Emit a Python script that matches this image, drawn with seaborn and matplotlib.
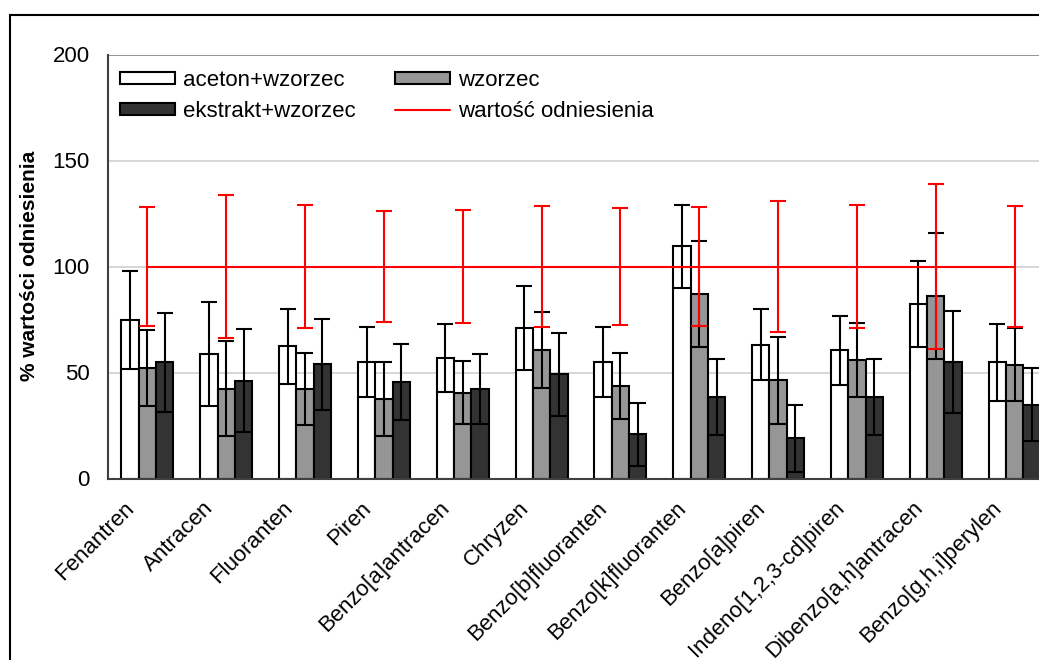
import matplotlib
matplotlib.use('Agg')
import matplotlib.pyplot as plt
import matplotlib.transforms as mtransforms
from matplotlib.patches import Rectangle, Patch
from matplotlib.lines import Line2D
import seaborn as sns
import pandas as pd
import numpy as np

# Data
compounds = ['Fenantren', 'Antracen', 'Fluoranten', 'Piren', 'Benzo[a]antracen',
             'Chryzen', 'Benzo[b]fluoranten', 'Benzo[k]fluoranten', 'Benzo[a]piren',
             'Indeno[1,2,3-cd]piren', 'Dibenzo[a,h]antracen', 'Benzo[g,h,i]perylen']
series = ['aceton+wzorzec', 'wzorzec', 'ekstrakt+wzorzec']

aceton_vals = [74.8, 58.6, 62.4, 54.8, 56.9, 70.9, 54.8, 109.5, 63.2, 60.5, 82.3, 54.8]
aceton_err = [23.0, 24.5, 17.7, 16.5, 16.0, 19.8, 16.5, 19.5, 16.7, 16.2, 20.3, 18.2]
wzorzec_vals = [52.1, 42.4, 42.4, 37.6, 40.5, 60.5, 43.7, 87.1, 46.4, 55.8, 86.2, 53.7]
wzorzec_err = [18.0, 22.5, 17.0, 17.5, 14.8, 18.0, 15.5, 25.0, 20.5, 17.5, 29.7, 17.2]
ekstrakt_vals = [54.8, 46.2, 53.8, 45.4, 42.4, 49.1, 20.8, 38.6, 18.9, 38.6, 54.8, 34.9]
ekstrakt_err = [23.5, 24.3, 21.5, 18.0, 16.5, 19.5, 15.0, 18.0, 16.0, 18.0, 24.0, 17.0]

ref_vals = [100] * 12
ref_err = [28.0, 33.7, 29.0, 26.0, 26.5, 28.5, 27.5, 28.0, 31.0, 29.0, 39.0, 28.5]

yticks = [0, 50, 100, 150, 200]

df = pd.DataFrame({
    'compound': compounds * 3,
    'series': [s for s in series for _ in compounds],
    'value': aceton_vals + wzorzec_vals + ekstrakt_vals,
})
errs = {'aceton+wzorzec': aceton_err, 'wzorzec': wzorzec_err, 'ekstrakt+wzorzec': ekstrakt_err}
colors = {'aceton+wzorzec': '#ffffff', 'wzorzec': '#969696', 'ekstrakt+wzorzec': '#333333'}

sns.set_style('white')
plt.rcParams['font.family'] = ['Liberation Sans', 'DejaVu Sans']
plt.rcParams['text.color'] = 'black'
plt.rcParams['xtick.color'] = 'black'
plt.rcParams['ytick.color'] = 'black'

fig = plt.figure(figsize=(10.39, 6.60), dpi=100)
ax = fig.add_axes([108 / 1039, 1 - 478.5 / 660, 946 / 1039, 424 / 660])

# Grid lines
for v in yticks[1:]:
    ax.axhline(v, color='#808080' if v == 200 else '#d0d0d0', lw=1.2, zorder=0)

sns.barplot(data=df, x='compound', y='value', hue='series', order=compounds,
            hue_order=series, palette=colors, width=0.66, edgecolor='black',
            linewidth=1.5, saturation=1, errorbar=None, legend=False, ax=ax)

# Error bars on bars
for i, s in enumerate(series):
    cont = ax.containers[i]
    xs = [p.get_x() + p.get_width() / 2 for p in cont.patches]
    ys = [p.get_height() for p in cont.patches]
    ax.errorbar(xs, ys, yerr=errs[s], fmt='none', ecolor='black', elinewidth=1.5,
                capsize=5.8, capthick=1.5, zorder=4)

# Reference value line with its own error bars
ax.errorbar(np.arange(len(compounds)), ref_vals, yerr=ref_err, color='red',
            lw=1.5, elinewidth=1.5, capsize=6, capthick=1.5, zorder=5)

ax.set_xlim(-0.5, 11.5)
ax.set_ylim(0, 200)
ax.set_yticks(yticks)
ax.set_yticklabels([str(v) for v in yticks], fontsize=16)
ax.set_xlabel('')
ax.set_ylabel('')

ax.set_xticks(np.arange(len(compounds)))
ax.set_xticklabels(compounds, fontsize=16, rotation=45, ha='right', va='center',
                   rotation_mode='anchor')
ax.set_xticks(np.arange(-0.5, 12, 1), minor=True)
ax.tick_params(axis='x', which='major', length=0, pad=19)
ax.tick_params(axis='x', which='minor', length=6, width=1.2, color='#404040', direction='out')
ax.tick_params(axis='y', length=6, width=1.2, color='#404040', direction='out', pad=7)
offset = mtransforms.ScaledTranslation(-0.16, 0, fig.dpi_scale_trans)
for lab in ax.get_xticklabels():
    lab.set_transform(lab.get_transform() + offset)

for side in ['top', 'right']:
    ax.spines[side].set_visible(False)
for side in ['left', 'bottom']:
    ax.spines[side].set_color('#404040')
    ax.spines[side].set_linewidth(1.5)

fig.text(30 / 1039, 1 - 266 / 660, '% wartości odniesienia', rotation=90,
         fontsize=15, fontweight='bold', ha='center', va='center')

# Legend
handles = [
    Patch(facecolor='#ffffff', edgecolor='black', lw=1.5),
    Patch(facecolor='#333333', edgecolor='black', lw=1.5),
    Patch(facecolor='#969696', edgecolor='black', lw=1.5),
    Line2D([0], [0], color='red', lw=1.5),
]
labels = ['aceton+wzorzec', 'ekstrakt+wzorzec', 'wzorzec', 'wartość odniesienia']
ax.legend(handles, labels, ncol=2, loc='upper left', bbox_to_anchor=(0.0127, 0.963),
          frameon=False, fontsize=16, handlelength=2.48, handleheight=0.43,
          handletextpad=0.36, columnspacing=1.75, labelspacing=0.43,
          borderaxespad=0, borderpad=0)

# Outer chart border
fig.patches.append(Rectangle((10 / 1039, -0.2), 1.2, 1 - 15 / 660 + 0.2,
                             transform=fig.transFigure, fill=False,
                             edgecolor='black', lw=1.5))

fig.savefig('out.png', dpi=100)
